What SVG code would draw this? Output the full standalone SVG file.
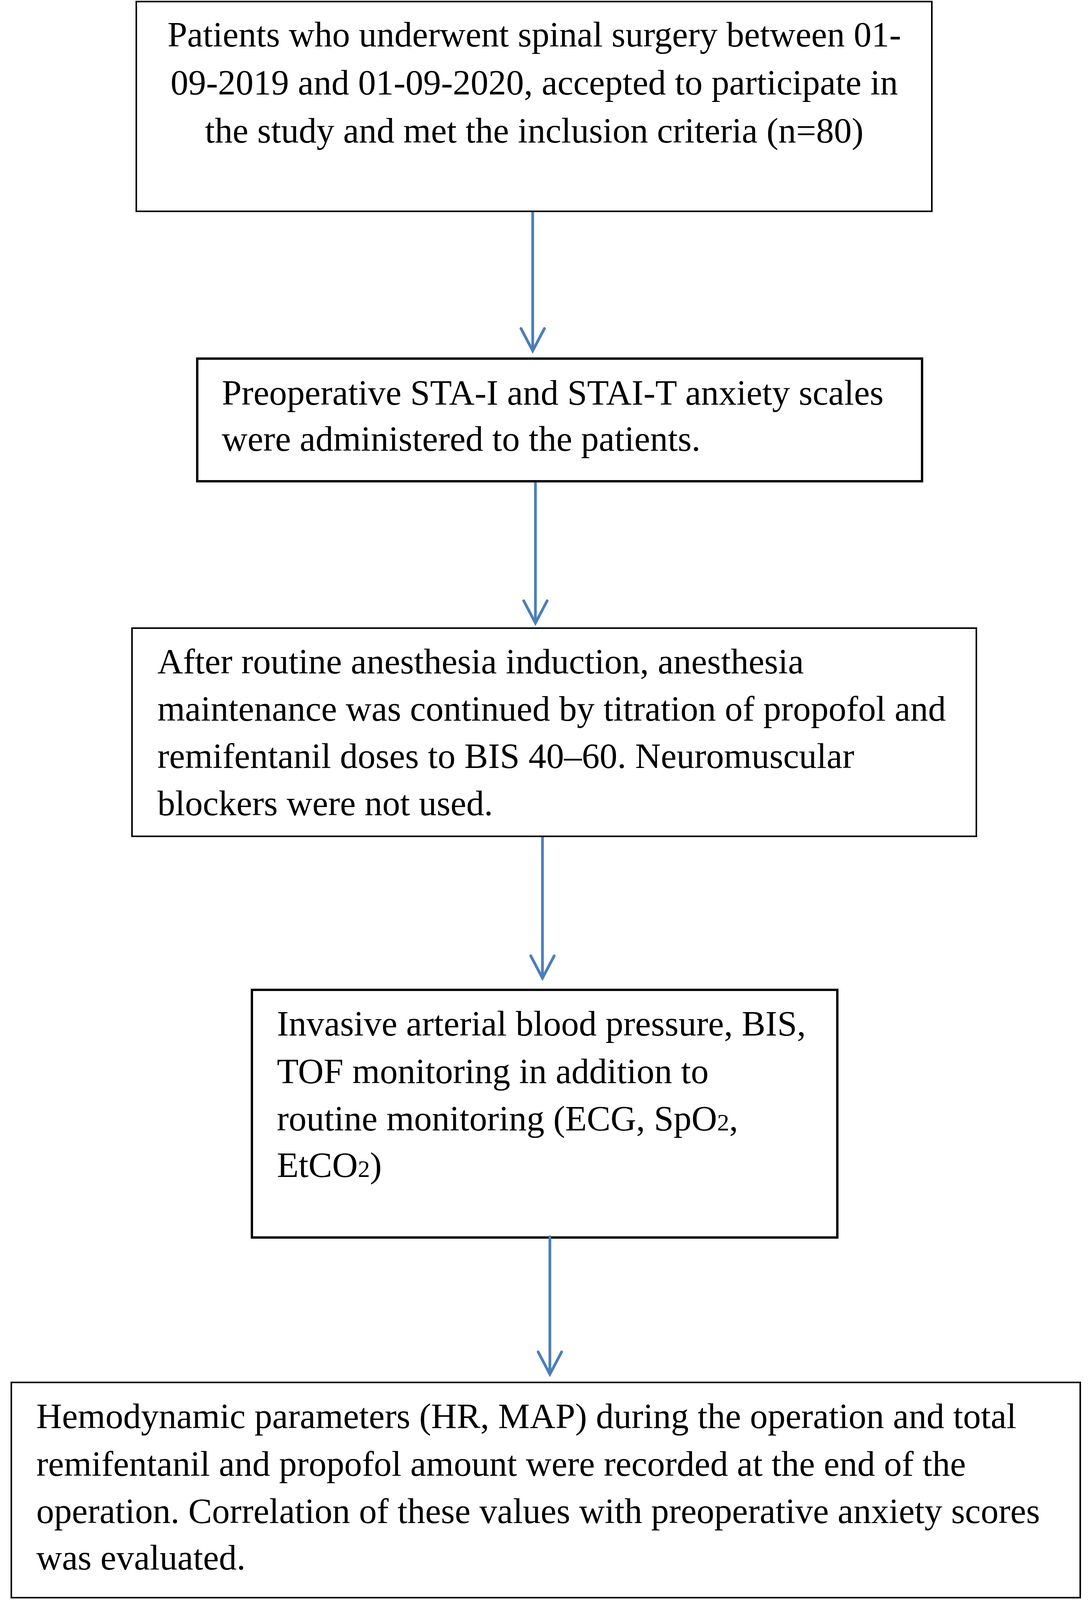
<svg xmlns="http://www.w3.org/2000/svg" width="2791" height="4344" viewBox="0 0 2791 4344">
  <style>
    .box { fill: #ffffff; stroke: #000000; }
    .thin { stroke-width: 4; }
    .thick { stroke-width: 6; }
    .t { font-family: "Liberation Serif", "Times New Roman", serif; font-size: 91px; fill: #000000; }
    .c { text-anchor: middle; }
    .sub { font-size: 62px; }
    .conn { fill: none; stroke: #4a7ebb; stroke-width: 7; }
  </style>
  <defs>
    <marker id="arr" markerUnits="userSpaceOnUse" viewBox="-70 -40 80 80" markerWidth="80" markerHeight="80" refX="0" refY="0" orient="auto" overflow="visible">
      <path d="M-57,-30 L0,0 L-57,30" fill="none" stroke="#4a7ebb" stroke-width="7" stroke-linecap="round" stroke-linejoin="miter"/>
    </marker>
  </defs>
  <rect width="2791" height="4344" fill="#ffffff"/>

  <g id="node1">
    <rect class="box thin" x="349" y="4" width="2037" height="537"/>
    <text class="t c" x="1368" y="119">Patients who underwent spinal surgery between 01-</text>
    <text class="t c" x="1368" y="242">09-2019 and 01-09-2020, accepted to participate in</text>
    <text class="t c" x="1368" y="365">the study and met the inclusion criteria (n=80)</text>
  </g>

  <g id="node2">
    <rect class="box thick" x="505" y="918" width="1856" height="314"/>
    <text class="t" x="568" y="1036">Preoperative STA-I and STAI-T anxiety scales</text>
    <text class="t" x="568" y="1154">were administered to the patients.</text>
  </g>

  <g id="node3">
    <rect class="box thin" x="338" y="1608" width="2162" height="533"/>
    <text class="t" x="403" y="1724">After routine anesthesia induction, anesthesia</text>
    <text class="t" x="403" y="1845">maintenance was continued by titration of propofol and</text>
    <text class="t" x="403" y="1966">remifentanil doses to BIS 40–60. Neuromuscular</text>
    <text class="t" x="403" y="2087">blockers were not used.</text>
  </g>

  <g id="node4">
    <rect class="box thick" x="645" y="2534" width="1499" height="634"/>
    <text class="t" x="709" y="2651">Invasive arterial blood pressure, BIS,</text>
    <text class="t" x="709" y="2773">TOF monitoring in addition to</text>
    <text class="t" x="709" y="2894">routine monitoring (ECG, SpO<tspan class="sub">2</tspan>,</text>
    <text class="t" x="709" y="3013">EtCO<tspan class="sub">2</tspan>)</text>
  </g>

  <g id="node5">
    <rect class="box thin" x="29" y="3539" width="2737" height="551"/>
    <text class="t" x="93" y="3656">Hemodynamic parameters (HR, MAP) during the operation and total</text>
    <text class="t" x="93" y="3778">remifentanil and propofol amount were recorded at the end of the</text>
    <text class="t" x="93" y="3899">operation. Correlation of these values with preoperative anxiety scores</text>
    <text class="t" x="93" y="4018">was evaluated.</text>
  </g>

  <g id="connectors">
    <line class="conn" x1="1364" y1="543" x2="1364" y2="898" marker-end="url(#arr)"/>
    <line class="conn" x1="1371" y1="1235" x2="1371" y2="1595" marker-end="url(#arr)"/>
    <line class="conn" x1="1389" y1="2143" x2="1389" y2="2504" marker-end="url(#arr)"/>
    <line class="conn" x1="1408" y1="3163" x2="1408" y2="3518" marker-end="url(#arr)"/>
  </g>
</svg>
